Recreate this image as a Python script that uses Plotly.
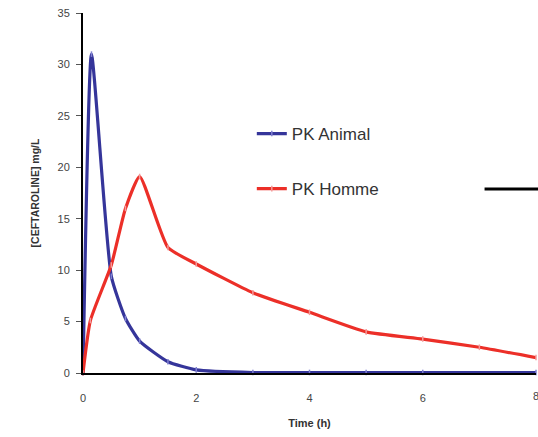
import plotly.graph_objects as go

time_animal = [0, 0.15, 0.5, 0.75, 1, 1.5, 2, 3, 4, 5, 6, 8]
conc_animal = [0, 31.0, 9.4, 5.3, 3.1, 1.1, 0.3, 0.05, 0.05, 0.05, 0.05, 0.05]

time_homme = [0, 0.13, 0.5, 0.75, 1, 1.5, 2, 3, 4, 5, 6, 7, 8]
conc_homme = [0, 5.1, 10.5, 16.0, 19.1, 12.2, 10.6, 7.8, 5.9, 4.0, 3.3, 2.5, 1.5]

x_ticks = [0, 2, 4, 6, 8]
y_ticks = [0, 5, 10, 15, 20, 25, 30, 35]

fig = go.Figure()
fig.add_trace(go.Scatter(
    x=time_animal, y=conc_animal, name="PK Animal", mode="lines+markers",
    line=dict(color="#35359a", width=3.2, shape="spline", smoothing=0.5),
    marker=dict(color="#6a6ac0", size=4, symbol="line-ns", line=dict(color="#8080d0", width=1.5)),
    legendgroup="a", cliponaxis=False))
fig.add_trace(go.Scatter(
    x=time_homme, y=conc_homme, name="PK Homme", mode="lines+markers",
    line=dict(color="#ec2f28", width=3.2, shape="spline", smoothing=0.5),
    marker=dict(color="#f08080", size=4, symbol="line-ns", line=dict(color="#f39a9a", width=1.5)),
    legendgroup="h", cliponaxis=False))

fig.add_shape(type="line", xref="paper", yref="paper",
              x0=(485 - 83) / 453.5, x1=(540 - 83) / 453.5,
              y0=(373 - 189) / 360, y1=(373 - 189) / 360,
              line=dict(color="black", width=3))

# last x tick label sits at the window edge (partly cut in the reference)
fig.add_annotation(x=x_ticks[-1], y=0, xref="x", yref="paper", yshift=-23,
                   xanchor="center", yanchor="middle",
                   text=str(x_ticks[-1]), showarrow=False,
                   font=dict(size=11, color="#444444"))

fig.update_layout(
    width=538, height=437,
    margin=dict(l=83, r=1.5, t=13, b=64),
    paper_bgcolor="white", plot_bgcolor="white",
    font=dict(family="Liberation Sans, Arial", color="#444444", size=11),
    showlegend=True,
    legend=dict(x=(252 - 83) / 453.5, y=(373 - 116) / 360, xanchor="left", yanchor="top",
                font=dict(size=17, color="#333333"), bgcolor="rgba(0,0,0,0)",
                tracegroupgap=30, itemwidth=30),
    xaxis=dict(range=[0, 8], tickvals=x_ticks[:-1], showgrid=False, zeroline=False,
               showline=True, linecolor="black", linewidth=2,
               ticks="", ticklabelstandoff=14,
               title=dict(text="<b>Time (h)</b>", font=dict(size=11, color="#333333"), standoff=16)),
    yaxis=dict(range=[0, 35], tickvals=y_ticks, showgrid=False, zeroline=False,
               showline=True, linecolor="black", linewidth=2,
               ticks="outside", ticklen=5, tickcolor="#555555", ticklabelstandoff=4,
               title=dict(text="<b>[CEFTAROLINE] mg/L</b>", font=dict(size=10.5, color="#333333"), standoff=16)),
)

fig.write_html("out.html")
